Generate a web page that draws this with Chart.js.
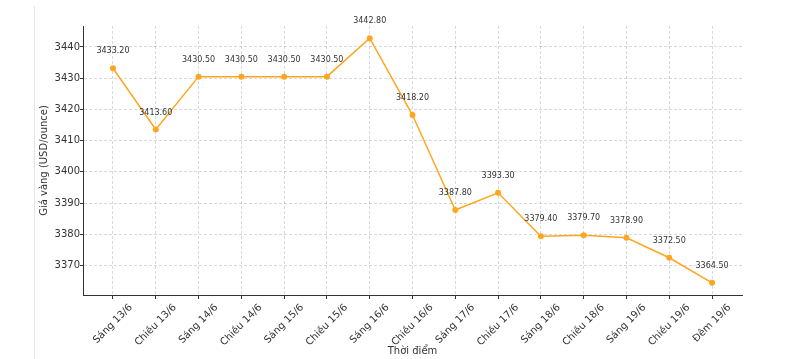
<!DOCTYPE html>
<html>
<head>
<meta charset="utf-8">
<script src="https://cdn.jsdelivr.net/npm/chart.js@4/dist/chart.umd.min.js"></script>
<style>
  html, body { margin: 0; padding: 0; background: #fff; }
  canvas { display: block; }
</style>
</head>
<body>
<canvas id="goldChart" width="786" height="359"></canvas>
<script>
// Gold price by session
const timeLabels = ['Sáng 13/6', 'Chiều 13/6', 'Sáng 14/6', 'Chiều 14/6', 'Sáng 15/6', 'Chiều 15/6',
  'Sáng 16/6', 'Chiều 16/6', 'Sáng 17/6', 'Chiều 17/6', 'Sáng 18/6', 'Chiều 18/6',
  'Sáng 19/6', 'Chiều 19/6', 'Đêm 19/6'];
const goldPrices = [3433.2, 3413.6, 3430.5, 3430.5, 3430.5, 3430.5, 3442.8, 3418.2,
  3387.8, 3393.3, 3379.4, 3379.7, 3378.9, 3372.5, 3364.5];
const yTickValues = [3370, 3380, 3390, 3400, 3410, 3420, 3430, 3440];

const FONT = 'DejaVu Sans';
const lineColor = '#FFA620';

// 5% margins around the data, like the original plot
const yMinData = Math.min(...goldPrices);
const yMaxData = Math.max(...goldPrices);
const yPad = (yMaxData - yMinData) * 0.05;
const xPad = (timeLabels.length - 1) * 0.05;

// value labels above each point
const valueLabels = {
  id: 'valueLabels',
  afterDatasetsDraw(chart) {
    const ctx = chart.ctx;
    const meta = chart.getDatasetMeta(0);
    ctx.save();
    ctx.font = '8px "' + FONT + '"';
    ctx.fillStyle = '#333';
    ctx.textAlign = 'center';
    ctx.textBaseline = 'bottom';
    meta.data.forEach((pt, i) => {
      ctx.fillText(goldPrices[i].toFixed(2), pt.x, pt.y - 13);
    });
    ctx.restore();
  }
};

// rotated x labels, box centred under the tick (Chart.js only right-aligns rotated labels)
const rotatedXLabels = {
  id: 'rotatedXLabels',
  afterDraw(chart) {
    const ctx = chart.ctx;
    const xScale = chart.scales.x;
    const top = xScale.top + 7;
    const fontSize = 10;
    const c = Math.SQRT1_2;
    ctx.save();
    ctx.font = fontSize + 'px "' + FONT + '"';
    ctx.fillStyle = '#333';
    ctx.textAlign = 'center';
    ctx.textBaseline = 'middle';
    timeLabels.forEach((label, i) => {
      const w = ctx.measureText(label).width;
      const h = fontSize * 1.1;
      const boxH = w * c + h * c;
      const cx = xScale.getPixelForValue(i);
      const cy = top + boxH / 2;
      ctx.save();
      ctx.translate(cx, cy);
      ctx.rotate(-Math.PI / 4);
      ctx.fillText(label, 0, 0);
      ctx.restore();
    });
    ctx.restore();
  }
};

// thin frame line on the left edge of the picture
const frameLine = {
  id: 'frameLine',
  beforeDraw(chart) {
    const ctx = chart.ctx;
    ctx.save();
    ctx.strokeStyle = '#e4e4e4';
    ctx.lineWidth = 1;
    ctx.beginPath();
    ctx.moveTo(34.5, 6);
    ctx.lineTo(34.5, 359);
    ctx.stroke();
    ctx.restore();
  }
};

new Chart(document.getElementById('goldChart').getContext('2d'), {
  type: 'line',
  data: {
    datasets: [{
      label: 'Giá vàng',
      data: goldPrices.map((v, i) => ({ x: i, y: v })),
      borderColor: lineColor,
      backgroundColor: lineColor,
      borderWidth: 1.5,
      pointRadius: 3,
      pointHoverRadius: 3,
      pointBorderWidth: 0,
      tension: 0
    }]
  },
  options: {
    responsive: false,
    animation: false,
    layout: { padding: { left: 34, top: 26, right: 44, bottom: 0 } },
    plugins: {
      legend: { display: false },
      tooltip: { enabled: false }
    },
    scales: {
      x: {
        type: 'linear',
        min: -xPad,
        max: timeLabels.length - 1 + xPad,
        afterBuildTicks(scale) {
          scale.ticks = timeLabels.map((_, i) => ({ value: i }));
        },
        afterFit(scale) { scale.height = 64; },
        ticks: {
          display: false,
          autoSkip: false
        },
        grid: {
          color: 'rgba(0,0,0,0.15)',
          tickBorderDash: [],
          tickColor: '#333',
          tickLength: 4,
          tickWidth: 1
        },
        border: { display: true, color: '#333', width: 1, dash: [3, 2] },
        title: {
          display: true,
          text: 'Thời điểm',
          color: '#333',
          font: { family: FONT, size: 10 },
          padding: { top: 0, bottom: 2 }
        }
      },
      y: {
        min: yMinData - yPad,
        max: yMaxData + yPad,
        afterBuildTicks(scale) {
          scale.ticks = yTickValues.map(v => ({ value: v }));
        },
        afterFit(scale) { scale.width = 49; },
        ticks: {
          padding: 0,
          color: '#333',
          font: { family: FONT, size: 10 },
          callback: (value) => value
        },
        grid: {
          color: 'rgba(0,0,0,0.15)',
          tickBorderDash: [],
          tickColor: '#333',
          tickLength: 3,
          tickWidth: 1
        },
        border: { display: true, color: '#333', width: 1, dash: [3, 2] },
        title: {
          display: true,
          text: 'Giá vàng (USD/ounce)',
          color: '#333',
          font: { family: FONT, size: 10 },
          padding: { top: 4, bottom: 0 }
        }
      }
    }
  },
  plugins: [valueLabels, rotatedXLabels, frameLine]
});
</script>
</body>
</html>
